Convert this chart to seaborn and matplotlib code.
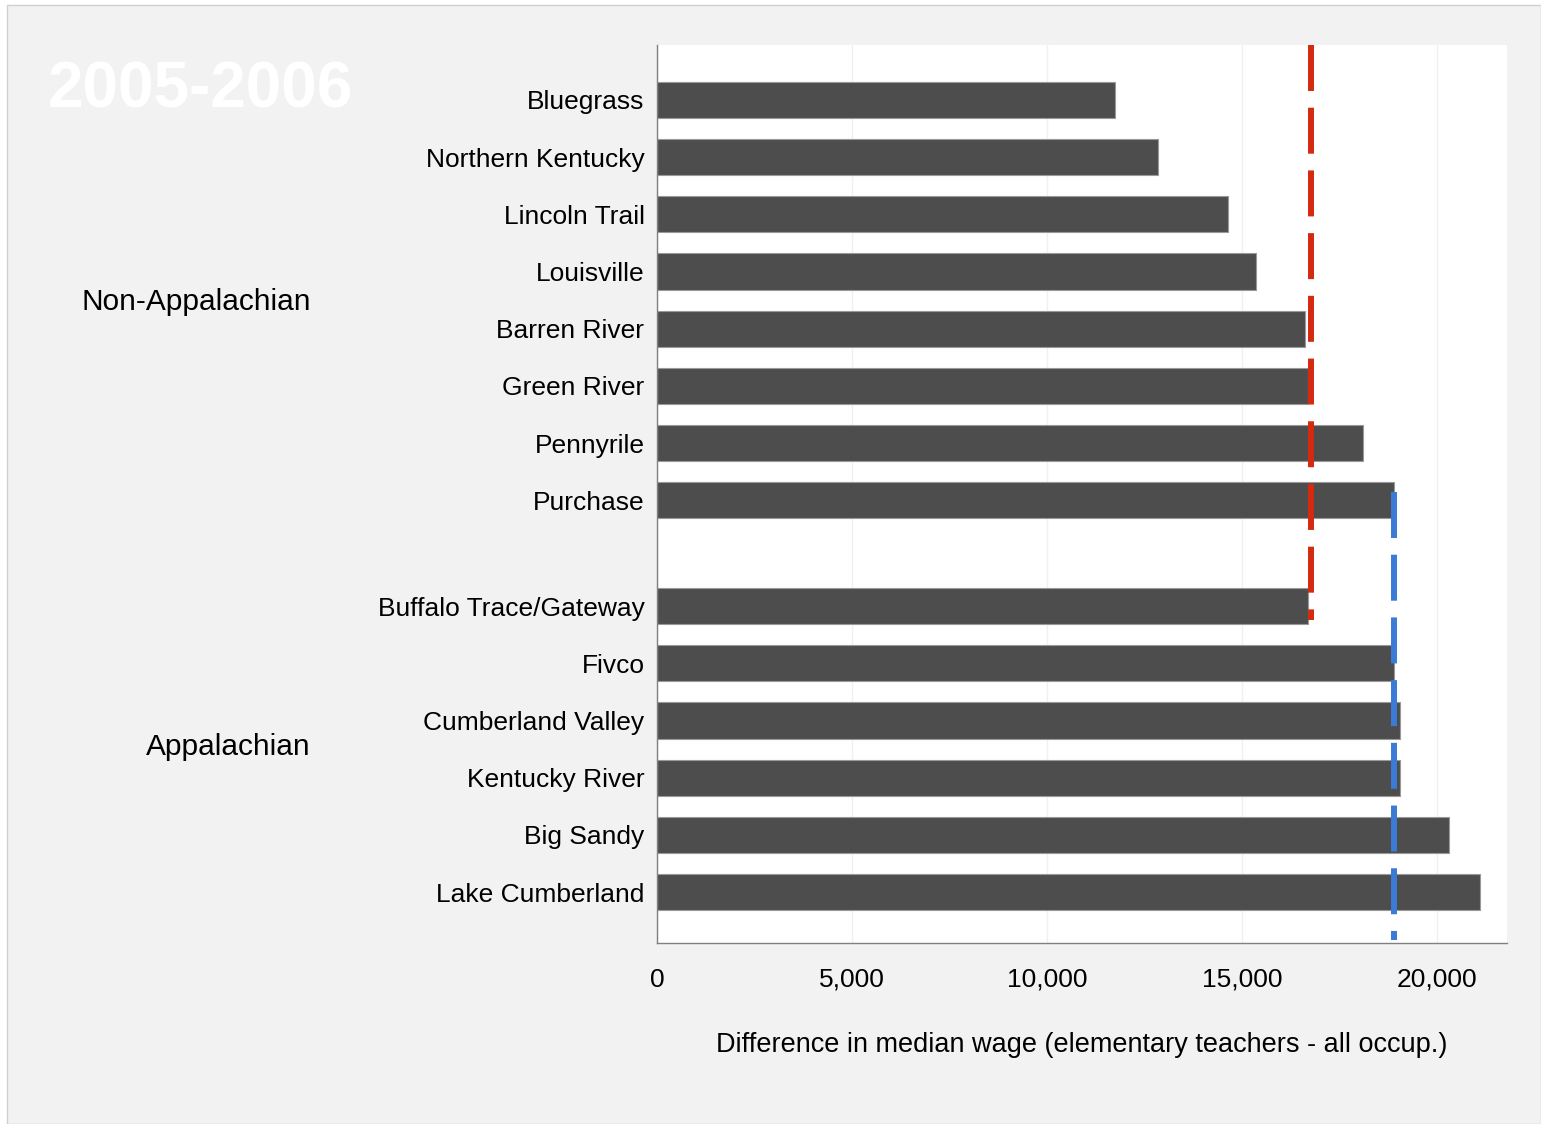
import matplotlib
matplotlib.use('Agg')
import matplotlib.pyplot as plt
import seaborn as sns
import pandas as pd
import numpy as np
from matplotlib.patches import Rectangle

sns.set_theme(style="white")
plt.rcParams['font.family'] = ['Liberation Sans', 'DejaVu Sans']

# data
non_app = ["Bluegrass", "Northern Kentucky", "Lincoln Trail", "Louisville",
           "Barren River", "Green River", "Pennyrile", "Purchase"]
non_app_vals = [11750, 12850, 14650, 15350, 16620, 16700, 18100, 18900]
app = ["Buffalo Trace/Gateway", "Fivco", "Cumberland Valley", "Kentucky River",
       "Big Sandy", "Lake Cumberland"]
app_vals = [16700, 18900, 19050, 19050, 20300, 21100]
non_app_ref = 16770   # red dashed line
app_ref = 18900       # blue dashed line
x_ticks = [0, 5000, 10000, 15000, 20000]

# row positions: the two groups are separated by a small gap
group_gap = 0.85
pos = list(np.arange(len(non_app))) + list(len(non_app) + group_gap + np.arange(len(app)))
df = pd.DataFrame({"region": non_app + app, "diff": non_app_vals + app_vals,
                   "pos": pos})

fig = plt.figure(figsize=(15.41, 11.24), dpi=100)
fig.patch.set_facecolor("white")
fig.patches.append(Rectangle((7 / 1541, 0), 1 - 7 / 1541, 1 - 5 / 1124,
                             transform=fig.transFigure, facecolor="#f2f2f2",
                             edgecolor="#d0d0d0", linewidth=1, zorder=-10))

ax = fig.add_axes([657 / 1541, 1 - 943 / 1124, 850 / 1541, 898 / 1124])
ax.set_facecolor("white")

sns.barplot(data=df, x="diff", y="pos", orient="h", native_scale=True,
            color="#4d4d4d", saturation=1, width=0.63, edgecolor="#999999",
            linewidth=0.8, ax=ax, zorder=2)

ax.set_xlim(0, 21800)
ax.set_ylim(14.74, -0.96)
ax.set_yticks(df["pos"])
ax.set_yticklabels(df["region"])
ax.set_xticks(x_ticks)
ax.set_xticklabels([f"{t:,}" for t in x_ticks], fontsize=19)
ax.tick_params(axis="x", direction="out", length=10, width=1, color="#808080",
               pad=8)
ax.tick_params(axis="y", length=0, pad=9, labelsize=19)
ax.set_ylabel("")
ax.set_xlabel("Difference in median wage (elementary teachers - all occup.)",
              fontsize=19.5, labelpad=29, color="black")
for lab in ax.get_yticklabels() + ax.get_xticklabels():
    lab.set_color("black")

ax.grid(axis="x", color="#f0f0f0", linewidth=1, zorder=0)
ax.set_axisbelow(True)
for s in ["top", "right"]:
    ax.spines[s].set_visible(False)
for s in ["left", "bottom"]:
    ax.spines[s].set_color("#808080")
    ax.spines[s].set_linewidth(1)

# reference lines
ax.plot([non_app_ref, non_app_ref], [-0.96, 9.09], color="#d42a10",
        linewidth=4.3, dashes=(7.7, 2.8), zorder=3, dash_capstyle="butt")
ax.plot([app_ref, app_ref], [6.85, 14.69], color="#3a7bd5",
        linewidth=4.3, dashes=(7.7, 2.8), zorder=3, dash_capstyle="butt")

# group labels
fig.text(311 / 1541, 1 - 302 / 1124, "Non-Appalachian", ha="right",
         va="center", fontsize=21.5, color="black")
fig.text(311 / 1541, 1 - 747 / 1124, "Appalachian", ha="right",
         va="center", fontsize=21.5, color="black")
fig.text(48 / 1541, 1 - 107 / 1124, "2005-2006", ha="left", va="baseline",
         fontsize=46, fontweight="bold", color="white")

fig.savefig("out.png", dpi=100, facecolor=fig.get_facecolor())
